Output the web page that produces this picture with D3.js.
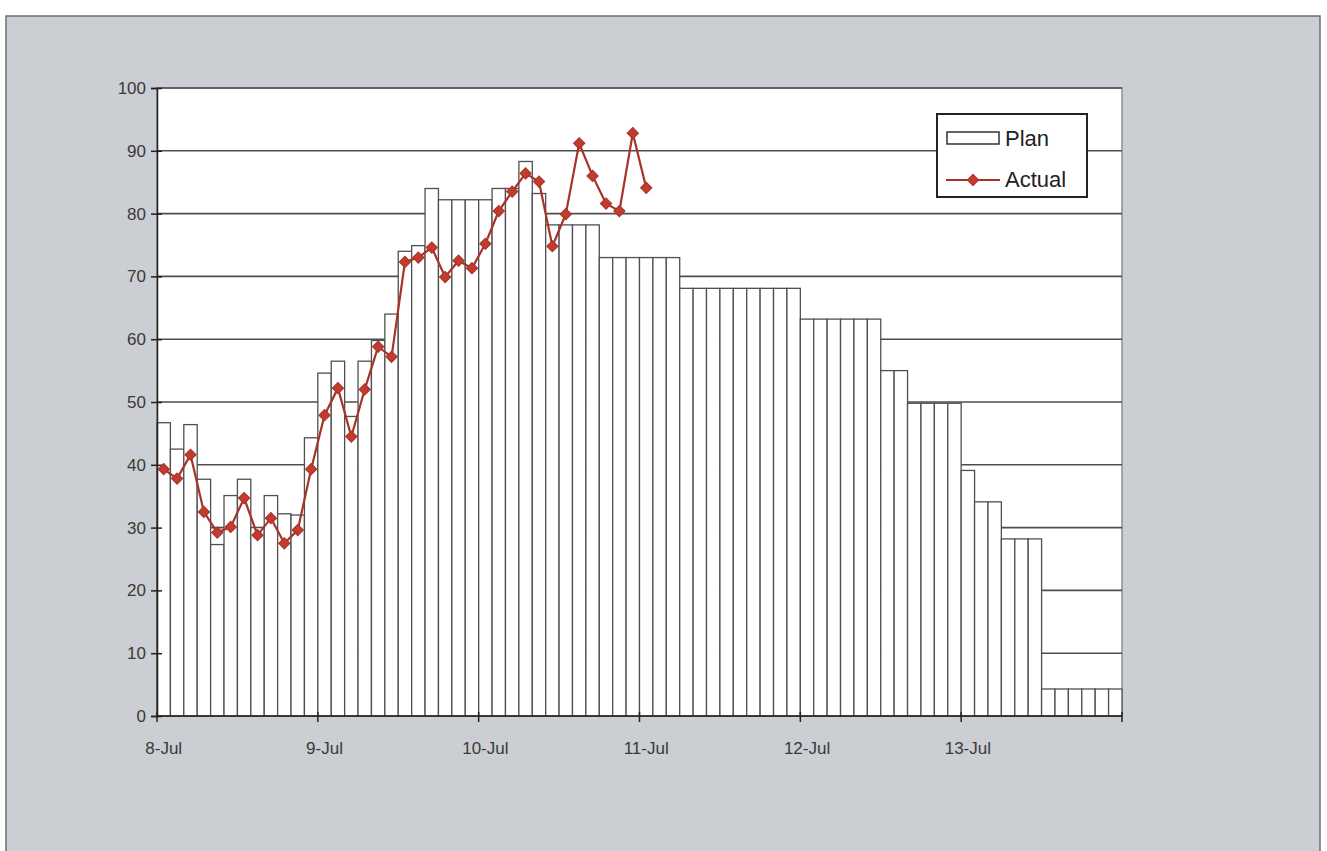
<!DOCTYPE html>
<html>
<head>
<meta charset="utf-8">
<script src="https://cdn.jsdelivr.net/npm/d3@7"></script>
<style>
  body { margin: 0; background: #ffffff; }
  text { font-family: Arial, "Liberation Sans", sans-serif; }
</style>
</head>
<body>
<div class="chart"></div>
<script>
// Data
// ==============================
var days = ["8-Jul", "9-Jul", "10-Jul", "11-Jul", "12-Jul", "13-Jul"];
var slotsPerDay = 12;

// plan value for every 2-hour slot (72 slots)
var planValues = [
  46.7, 42.5, 46.4, 37.7, 27.3, 35.1, 37.7, 30.0, 35.1, 32.2, 32.0, 44.3,
  54.6, 56.5, 47.7, 56.5, 59.8, 64.0, 74.0, 74.9, 84.0, 82.2, 82.2, 82.2,
  82.2, 84.0, 84.0, 88.3, 83.2, 78.2, 78.2, 78.2, 78.2, 73.0, 73.0, 73.0,
  73.0, 73.0, 73.0, 68.1, 68.1, 68.1, 68.1, 68.1, 68.1, 68.1, 68.1, 68.1,
  63.2, 63.2, 63.2, 63.2, 63.2, 63.2, 55.0, 55.0, 49.8, 49.8, 49.8, 49.8,
  39.1, 34.1, 34.1, 28.2, 28.2, 28.2, 4.3, 4.3, 4.3, 4.3, 4.3, 4.3
];

// actual values, known up to 11-Jul
var actualValues = [
  39.3, 37.8, 41.6, 32.5, 29.2, 30.1, 34.7, 28.8, 31.5, 27.5, 29.6, 39.3,
  47.9, 52.2, 44.5, 52.0, 58.8, 57.2, 72.3, 73.0, 74.6, 69.9, 72.5, 71.3,
  75.2, 80.4, 83.5, 86.4, 85.1, 74.8, 79.9, 91.2, 86.0, 81.6, 80.4, 92.8,
  84.1
];

var yTicks = [0, 10, 20, 30, 40, 50, 60, 70, 80, 90, 100];
var seriesNames = ["Plan", "Actual"];

// Layout
// ==============================
var svgWidth = 1327;
var svgHeight = 851;

var margin = { top: 88, right: 205, bottom: 135, left: 157 };
var width = svgWidth - margin.left - margin.right;
var height = svgHeight - margin.top - margin.bottom;

var lineColor = "#a8322a";
var markerColor = "#c23b2c";
var barStroke = "#505050";
var labelColor = "#3a3a3a";

var svg = d3.select(".chart")
  .append("svg")
  .attr("width", svgWidth)
  .attr("height", svgHeight);

// grey chart panel
svg.append("rect")
  .attr("x", 6)
  .attr("y", 16)
  .attr("width", 1314)
  .attr("height", 850)
  .attr("fill", "#cbced2")
  .attr("stroke", "#6e6e6e")
  .attr("stroke-width", 1.5);

var chartGroup = svg.append("g")
  .attr("transform", `translate(${margin.left}, ${margin.top})`);

// Scales
// ==============================
var slots = d3.range(planValues.length);

var xBand = d3.scaleBand()
  .domain(slots)
  .range([0, width])
  .padding(0);

var yLinearScale = d3.scaleLinear()
  .domain([0, 100])
  .range([height, 0]);

// plot area
chartGroup.append("rect")
  .attr("width", width)
  .attr("height", height)
  .attr("fill", "#ffffff")
  .attr("stroke", "#7a7a7a")
  .attr("stroke-width", 1.2);

// gridlines
chartGroup.append("g")
  .selectAll("line")
  .data(yTicks.filter(d => d > 0))
  .enter()
  .append("line")
  .attr("x1", 0)
  .attr("x2", width)
  .attr("y1", d => yLinearScale(d))
  .attr("y2", d => yLinearScale(d))
  .attr("stroke", "#4e4e4e")
  .attr("stroke-width", 1.6);

// Plan bars
// ==============================
chartGroup.append("g")
  .selectAll("rect")
  .data(planValues)
  .enter()
  .append("rect")
  .attr("x", (d, i) => xBand(i))
  .attr("y", d => yLinearScale(d))
  .attr("width", xBand.bandwidth())
  .attr("height", d => height - yLinearScale(d))
  .attr("fill", "#ffffff")
  .attr("stroke", barStroke)
  .attr("stroke-width", 1.3);

// Axes
// ==============================
var leftAxis = d3.axisLeft(yLinearScale)
  .tickValues(yTicks)
  .tickSize(6)
  .tickPadding(5);

var yAxisGroup = chartGroup.append("g")
  .call(leftAxis);

yAxisGroup.select(".domain")
  .attr("stroke", "#222222")
  .attr("stroke-width", 1.5);
yAxisGroup.selectAll(".tick line")
  .attr("x1", 5)
  .attr("stroke", "#222222")
  .attr("stroke-width", 1.5);
yAxisGroup.selectAll(".tick text")
  .attr("fill", labelColor)
  .style("font-size", "17px")
  .style("font-family", "Arial, 'Liberation Sans', sans-serif");

// x axis: ticks between days, labels under first slot of each day
var xAxisGroup = chartGroup.append("g")
  .attr("transform", `translate(0, ${height})`);

xAxisGroup.append("line")
  .attr("x1", 0)
  .attr("x2", width)
  .attr("stroke", "#222222")
  .attr("stroke-width", 1.5);

var boundaries = d3.range(0, planValues.length + 1, slotsPerDay);

xAxisGroup.selectAll(".dayTick")
  .data(boundaries)
  .enter()
  .append("line")
  .attr("class", "dayTick")
  .attr("x1", d => d < planValues.length ? xBand(d) : width)
  .attr("x2", d => d < planValues.length ? xBand(d) : width)
  .attr("y1", -4)
  .attr("y2", 6)
  .attr("stroke", "#222222")
  .attr("stroke-width", 1.5);

xAxisGroup.selectAll(".dayLabel")
  .data(days)
  .enter()
  .append("text")
  .attr("class", "dayLabel")
  .attr("x", (d, i) => xBand(i * slotsPerDay) + xBand.bandwidth() / 2)
  .attr("y", 38)
  .attr("text-anchor", "middle")
  .attr("fill", labelColor)
  .style("font-size", "17px")
  .text(d => d);

// Actual line
// ==============================
var line = d3.line()
  .x((d, i) => xBand(i) + xBand.bandwidth() / 2)
  .y(d => yLinearScale(d));

chartGroup.append("path")
  .datum(actualValues)
  .attr("d", line)
  .attr("fill", "none")
  .attr("stroke", lineColor)
  .attr("stroke-width", 2.2);

var diamond = d3.symbol().type(d3.symbolSquare).size(64);

chartGroup.append("g")
  .selectAll("path")
  .data(actualValues)
  .enter()
  .append("path")
  .attr("d", diamond)
  .attr("transform", (d, i) => `translate(${xBand(i) + xBand.bandwidth() / 2}, ${yLinearScale(d)}) rotate(45)`)
  .attr("fill", markerColor)
  .attr("stroke", lineColor)
  .attr("stroke-width", 1);

// Legend
// ==============================
var legend = svg.append("g")
  .attr("transform", "translate(937, 114)");

legend.append("rect")
  .attr("width", 150)
  .attr("height", 83)
  .attr("fill", "#ffffff")
  .attr("stroke", "#222222")
  .attr("stroke-width", 2);

legend.append("rect")
  .attr("x", 10)
  .attr("y", 18)
  .attr("width", 52)
  .attr("height", 12)
  .attr("fill", "#ffffff")
  .attr("stroke", "#333333")
  .attr("stroke-width", 1.5);

legend.append("line")
  .attr("x1", 9)
  .attr("x2", 63)
  .attr("y1", 66)
  .attr("y2", 66)
  .attr("stroke", lineColor)
  .attr("stroke-width", 2);

legend.append("path")
  .attr("d", diamond)
  .attr("transform", "translate(36, 66) rotate(45)")
  .attr("fill", markerColor)
  .attr("stroke", lineColor)
  .attr("stroke-width", 1);

legend.selectAll(".legendText")
  .data(seriesNames)
  .enter()
  .append("text")
  .attr("class", "legendText")
  .attr("x", 68)
  .attr("y", (d, i) => i === 0 ? 32 : 73)
  .attr("fill", "#222222")
  .style("font-size", "22px")
  .text(d => d);
</script>
</body>
</html>
